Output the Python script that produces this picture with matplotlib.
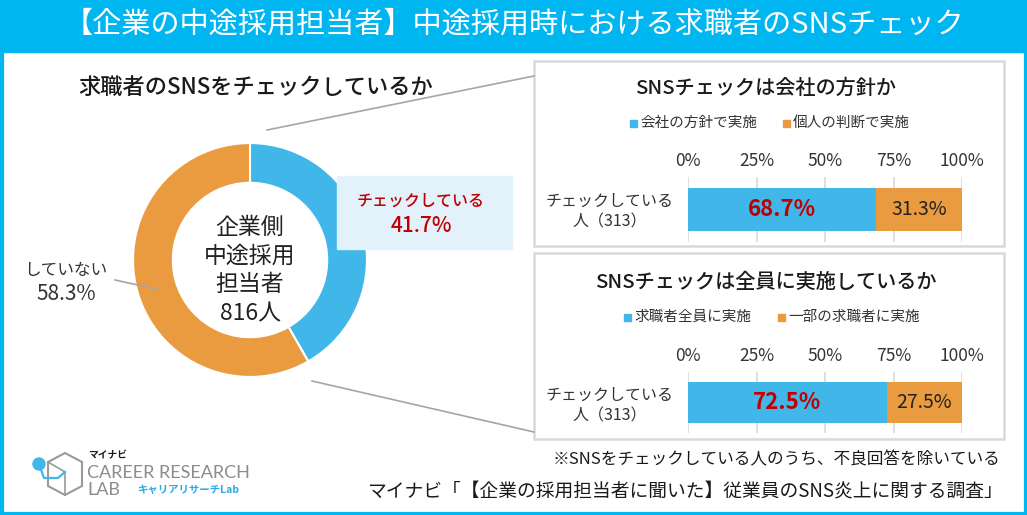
import matplotlib
matplotlib.use('Agg')
import matplotlib.pyplot as plt
from matplotlib.patches import Rectangle, Polygon, Circle

plt.rcParams['font.family'] = ['Noto Sans CJK JP', 'DejaVu Sans']

W, H = 1027, 515

title = '【企業の中途採用担当者】中途採用時における求職者のSNSチェック'
donut_title = '求職者のSNSをチェックしているか'
donut_labels = ['チェックしている', 'していない']
donut_values = [41.7, 58.3]
donut_center = '企業側\n中途採用\n担当者\n816人'

panel_titles = ['SNSチェックは会社の方針か', 'SNSチェックは全員に実施しているか']
legend_1 = ['会社の方針で実施', '個人の判断で実施']
legend_2 = ['求職者全員に実施', '一部の求職者に実施']
bar_1 = [68.7, 31.3]
bar_2 = [72.5, 27.5]
bar_category = 'チェックしている\n人（313）'
tick_values = [0, 25, 50, 75, 100]

note = '※SNSをチェックしている人のうち、不良回答を除いている'
source = 'マイナビ「【企業の採用担当者に聞いた】従業員のSNS炎上に関する調査」'

BLUE = '#41B6E8'
ORANGE = '#EA9B3F'
CYAN = '#00B6F0'
RED = '#C00000'
GRID = '#D9D9D9'


def px(x, y, w, h):
    return [x / W, 1 - (y + h) / H, w / W, h / H]


fig = plt.figure(figsize=(W / 100, H / 100), dpi=100)

# donut
ax = fig.add_axes(px(130, 140, 240, 240))
ax.pie(donut_values, colors=[BLUE, ORANGE], startangle=90, counterclock=False,
       radius=1, wedgeprops=dict(width=0.34, edgecolor='white', linewidth=1.5))
ax.set_xlim(-1.026, 1.026)
ax.set_ylim(-1.026, 1.026)
ax.set_aspect('equal')
ax.text(0, -0.09, donut_center, ha='center', va='center', fontsize=16.5,
        linespacing=1.32, color='#222222')


def stacked_bar(rect, values):
    bx = fig.add_axes(px(*rect))
    left = 0
    for v, c in zip(values, [BLUE, ORANGE]):
        bx.barh(0, v, left=left, height=0.66, color=c, zorder=2)
        left += v
    bx.set_xlim(0, 100)
    bx.set_ylim(-0.5, 0.5)
    bx.xaxis.tick_top()
    bx.set_xticks(tick_values)
    bx.set_xticklabels([f'{t}%' for t in tick_values], fontsize=12.5, color='#333333')
    bx.tick_params(axis='x', length=0, pad=5)
    bx.set_yticks([])
    bx.grid(axis='x', color=GRID, linewidth=1.2, zorder=0)
    for s in bx.spines.values():
        s.set_visible(False)
    bx.text(values[0] / 2, 0, f'{values[0]}%', ha='center', va='center',
            fontsize=16, fontweight='bold', color=RED, zorder=3)
    bx.text(values[0] + values[1] / 2, 0, f'{values[1]}%', ha='center',
            va='center', fontsize=14, color='#222222', zorder=3)
    return bx


stacked_bar((688, 177, 274, 65), bar_1)
stacked_bar((688, 372, 274, 61), bar_2)

# overlay for frame, texts and lines
ov = fig.add_axes([0, 0, 1, 1])
ov.set_xlim(0, W)
ov.set_ylim(H, 0)
ov.axis('off')
ov.patch.set_alpha(0)

ov.add_patch(Rectangle((0, 0), W, 52, color=CYAN, zorder=1))
ov.add_patch(Rectangle((1.5, 1.5), W - 3, H - 3, fill=False, edgecolor=CYAN,
                       linewidth=3, zorder=1))
ov.text(W / 2, 25, title, ha='center', va='center', fontsize=21,
        color='white')

ov.text(78, 87, donut_title, ha='left', va='center', fontsize=16,
        color='#1a1a1a', fontweight='medium')

# connector lines
ov.plot([267, 534], [130, 76], color='#A6A6A6', linewidth=1.2)
ov.plot([312, 534], [381, 432], color='#A6A6A6', linewidth=1.2)

# callout box
ov.add_patch(Rectangle((337, 176), 175, 73, color='#E2F1FA', zorder=2))
ov.text(421, 201, donut_labels[0], ha='center', va='center', fontsize=11.5,
        color=RED, fontweight='medium', zorder=3)
ov.text(421, 226, f'{donut_values[0]}%', ha='center', va='center',
        fontsize=15, color=RED, fontweight='medium', zorder=3)

ov.text(66, 270, donut_labels[1], ha='center', va='center', fontsize=12,
        color='#333333')
ov.text(66, 294, f'{donut_values[1]}%', ha='center', va='center',
        fontsize=15, color='#333333')
ov.plot([115, 156], [280, 289], color='#A6A6A6', linewidth=1.2)

# right panels
for (y0, y1), ttl, leg, lx, ty, ly in [((61, 246), panel_titles[0], legend_1, (630, 783), 88, 123),
                                       ((253, 439), panel_titles[1], legend_2, (624, 778), 282, 317)]:
    ov.add_patch(Rectangle((534, y0), 470, y1 - y0, fill=False,
                           edgecolor=GRID, linewidth=1.8))
    ov.text(766, ty, ttl, ha='center', va='center', fontsize=14.5,
            color='#1a1a1a', fontweight='medium')
    for x, lab, c in zip(lx, leg, [BLUE, ORANGE]):
        ov.add_patch(Rectangle((x, ly - 3.5), 7, 7, color=c))
        ov.text(x + 10, ly, lab, ha='left', va='center', fontsize=10.5,
                color='#333333')
    ov.text(610, ty + 124, bar_category, ha='center', va='center',
            fontsize=11.5, color='#333333', linespacing=1.3)

# footer
ov.text(1000, 460, note, ha='right', va='center', fontsize=12, color='#1a1a1a')
ov.text(1003, 491, source, ha='right', va='center', fontsize=13.5,
        color='#1a1a1a')

# logo
hexagon = [(65, 453), (82, 462), (82, 486), (65, 495), (48, 486), (48, 462)]
ov.add_patch(Polygon(hexagon, closed=True, fill=False, edgecolor='#9A9A9A',
                     linewidth=1.5))
ov.plot([48, 65, 65], [462, 472, 495], color='#9A9A9A', linewidth=1.2)
ov.plot([39, 44, 58, 65], [464, 478, 478, 472], color=BLUE, linewidth=1.6)
ov.add_patch(Circle((39, 464), 6, color=BLUE))
ov.text(88, 455, 'マイナビ', ha='left', va='center', fontsize=7,
        fontweight='bold', color='#1a1a1a')
ov.text(87, 473, 'CAREER RESEARCH', ha='left', va='center', fontsize=13,
        color='#8C8C8C', family='Lato')
ov.text(87, 490, 'LAB', ha='left', va='center', fontsize=13,
        color='#8C8C8C', family='Lato')
ov.text(137, 490, 'キャリアリサーチLab', ha='left', va='center', fontsize=7.5,
        fontweight='bold', color='#2AA8E6')

fig.savefig('out.png', dpi=100)
